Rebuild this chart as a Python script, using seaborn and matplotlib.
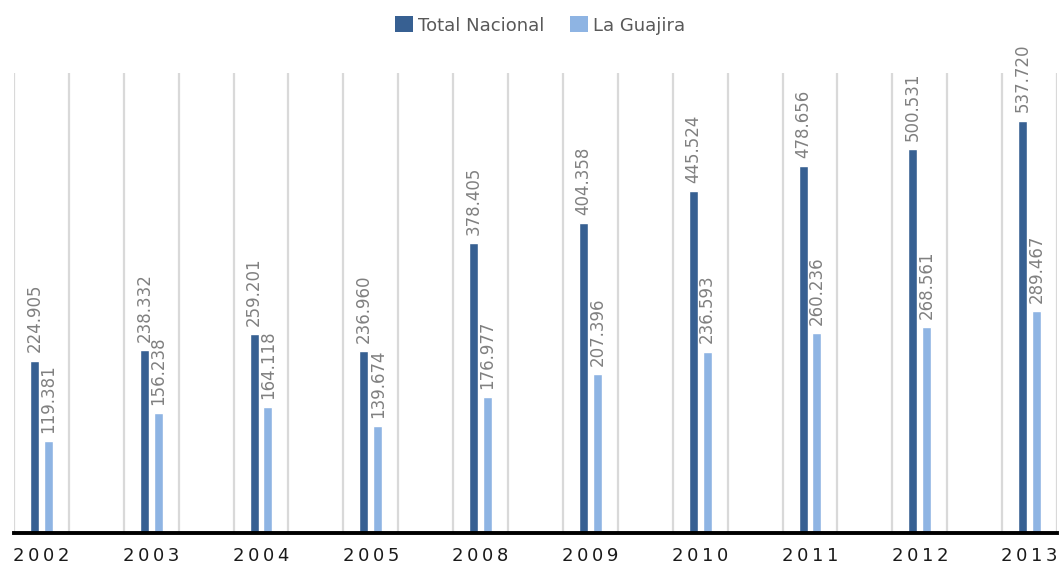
import pandas as pd
import matplotlib.pyplot as plt
from matplotlib.patches import Patch
import seaborn as sns

# Données
years = ['2002', '2003', '2004', '2005', '2008', '2009', '2010', '2011', '2012', '2013']
total_nacional = [224905, 238332, 259201, 236960, 378405, 404358, 445524, 478656, 500531, 537720]
la_guajira = [119381, 156238, 164118, 139674, 176977, 207396, 236593, 260236, 268561, 289467]
series = ['Total Nacional', 'La Guajira']
colors = ['#376092', '#8eb4e3']

df = pd.DataFrame({
    'year': years * 2,
    'serie': [series[0]] * len(years) + [series[1]] * len(years),
    'value': total_nacional + la_guajira,
})

# Une colonne vide entre chaque année (comme dans le graphique Excel)
order = []
for i, y in enumerate(years):
    order.append(y)
    if i < len(years) - 1:
        order.append(f'gap{i}')

sns.set_style('white')
plt.rcParams['font.family'] = ['DejaVu Sans']

fig = plt.figure(figsize=(10.59, 5.67), dpi=100)
ax = fig.add_axes([14 / 1059, 1 - 533 / 567, 1043 / 1059, 460 / 567])

sns.barplot(data=df, x='year', y='value', hue='serie', order=order, hue_order=series,
            palette=colors, width=0.5, gap=0.35, saturation=1, legend=False, ax=ax)

# Étiquettes de valeurs (format 224.905)
for container in ax.containers:
    ax.bar_label(container, fmt=lambda v: f"{int(round(v)):,}".replace(',', '.'),
                 rotation=90, padding=6, color='#808080', fontsize=12)

ax.set_ylim(0, 600000)
ax.set_xlim(-0.5, len(order) - 0.5)
ax.set_yticks([])
ax.set_xlabel('')
ax.set_ylabel('')

# Axe x : libellés au centre des années, graduations aux limites des colonnes
positions = [order.index(y) for y in years]
ax.set_xticks(positions)
ax.set_xticklabels(['\u2009'.join(y) for y in years], fontsize=13, color='#1a1a1a')
ax.tick_params(axis='x', which='major', length=0, pad=10)
ax.set_xticks([i - 0.5 for i in range(len(order) + 1)], minor=True)
ax.tick_params(axis='x', which='minor', length=6, width=2.2, color='black', direction='out')
ax.grid(True, axis='x', which='minor', color='#d9d9d9', linewidth=1.6)
ax.grid(False, axis='x', which='major')
ax.set_axisbelow(True)

for side in ['left', 'right', 'top']:
    ax.spines[side].set_visible(False)
ax.spines['bottom'].set_color('black')
ax.spines['bottom'].set_linewidth(2.8)

# Légende en haut au centre
handles = [Patch(facecolor=c, edgecolor='none') for c in colors]
leg = fig.legend(handles, series, loc='upper center', bbox_to_anchor=(0.51, 1.0), ncol=2,
                 frameon=False, fontsize=13, handlelength=1.0, handleheight=1.0,
                 handletextpad=0.3, columnspacing=1.4)
for t in leg.get_texts():
    t.set_color('#595959')

plt.savefig('out.png', dpi=100)
plt.close()
